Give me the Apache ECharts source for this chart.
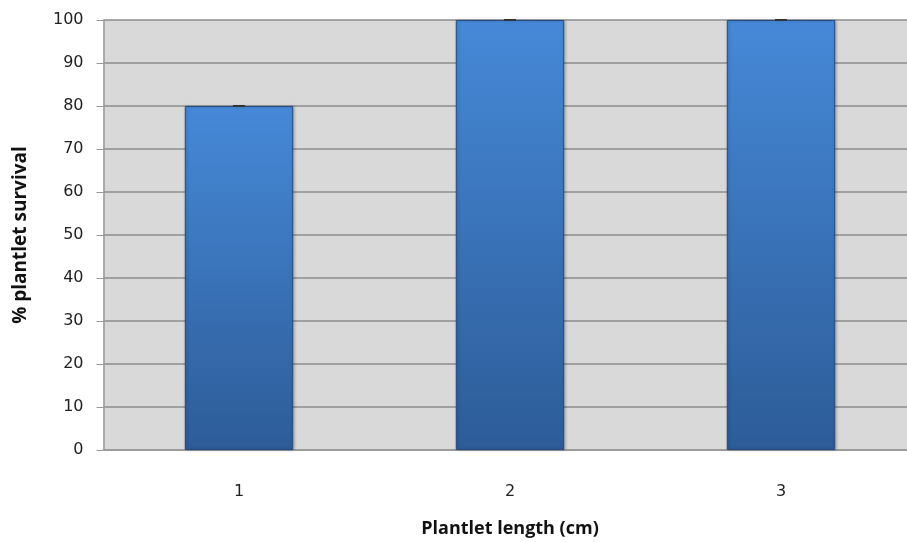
<!DOCTYPE html>
<html><head><meta charset="utf-8">
<script src="https://cdn.jsdelivr.net/npm/echarts@6/dist/echarts.min.js"></script>
<style>html,body{margin:0;padding:0;background:#fff;overflow:hidden}#c{width:907px;height:542px}</style>
</head><body><div id="c"></div>
<script>
const categories = ['1', '2', '3'];
const survival = [80, 100, 100];
const errors = [0, 0, 0];
const yTicks = [0, 10, 20, 30, 40, 50, 60, 70, 80, 90, 100];

const chart = echarts.init(document.getElementById('c'));
chart.setOption({
  animation: false,
  grid: { left: 103.5, top: 20, width: 813, height: 430, outerBoundsMode: 'none', containLabel: false,
          backgroundColor: '#d9d9d9', show: true, borderWidth: 0 },
  xAxis: {
    type: 'category', data: categories,
    name: 'Plantlet length (cm)', nameLocation: 'middle', nameGap: 70,
    nameTextStyle: { fontFamily: 'Open Sans', fontWeight: 'bold', fontSize: 18, color: '#111' },
    axisLine: { lineStyle: { color: '#999', width: 1.5 } },
    axisTick: { show: false },
    axisLabel: { fontFamily: 'DejaVu Sans', fontSize: 16, color: '#222', margin: 34 }
  },
  yAxis: {
    type: 'value', min: yTicks[0], max: yTicks[yTicks.length - 1], interval: 10,
    name: '% plantlet survival', nameLocation: 'middle', nameGap: 73, nameRotate: 90,
    nameTextStyle: { fontFamily: 'Open Sans', fontWeight: 'bold', fontSize: 19, color: '#111' },
    axisLine: { show: true, lineStyle: { color: '#999', width: 1.5 } },
    axisTick: { show: true, length: 7, lineStyle: { color: '#999' } },
    axisLabel: { fontFamily: 'DejaVu Sans', fontSize: 16, color: '#222', margin: 20 },
    splitLine: { lineStyle: { color: '#8c8c8c', width: 1.5 } }
  },
  series: [{
    type: 'bar', data: survival, barWidth: '40%',
    itemStyle: {
      color: new echarts.graphic.LinearGradient(0, 0, 0, 1, [
        { offset: 0, color: '#4689d8' },
        { offset: 1, color: '#2d5c98' }
      ]),
      borderColor: '#244c80', borderWidth: 1,
      shadowColor: 'rgba(0,0,0,0.25)', shadowBlur: 3, shadowOffsetX: 1
    }
  }, {
    type: 'custom',
    data: survival.map((v, i) => [i, v, errors[i]]),
    renderItem: function (params, api) {
      const x = api.value(0), y = api.value(1), e = api.value(2);
      const top = api.coord([x, y + e]);
      const bot = api.coord([x, y - e]);
      const hw = 6;
      return {
        type: 'group', children: [
          { type: 'line', shape: { x1: top[0], y1: top[1], x2: bot[0], y2: bot[1] }, style: { stroke: '#333', lineWidth: 1.5 } },
          { type: 'line', shape: { x1: top[0] - hw, y1: top[1], x2: top[0] + hw, y2: top[1] }, style: { stroke: '#333', lineWidth: 2 } },
          { type: 'line', shape: { x1: bot[0] - hw, y1: bot[1], x2: bot[0] + hw, y2: bot[1] }, style: { stroke: '#333', lineWidth: 2 } }
        ]
      };
    },
    z: 5
  }]
});
</script></body></html>
